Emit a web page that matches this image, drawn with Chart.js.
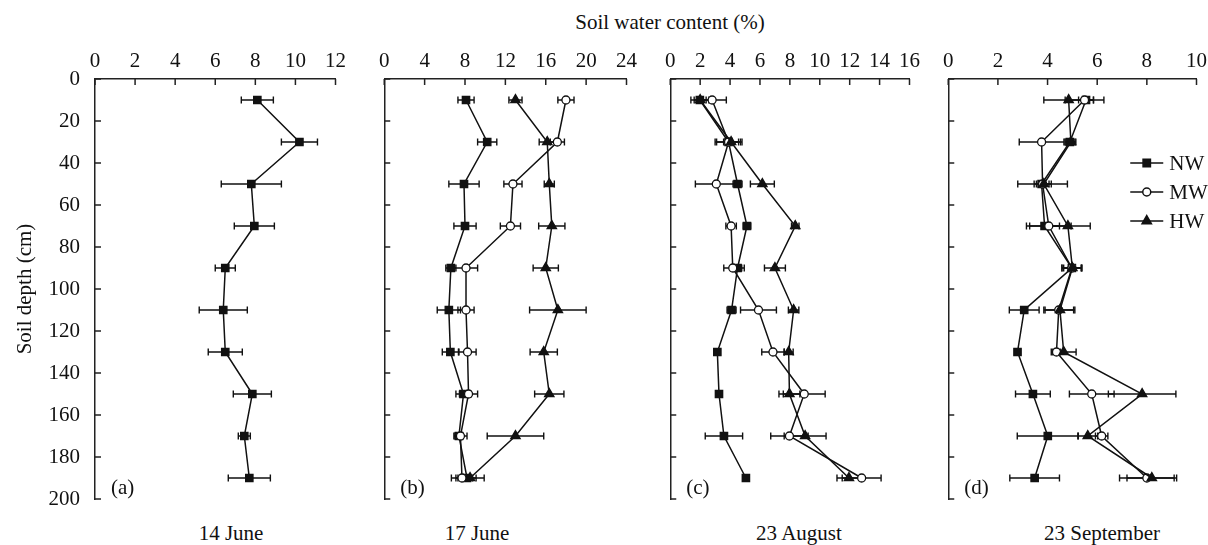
<!DOCTYPE html>
<html>
<head>
<meta charset="utf-8">
<script src="https://cdn.jsdelivr.net/npm/chart.js@4.4.1/dist/chart.umd.min.js"></script>
<style>
  body { margin: 0; background: #fff; width: 1208px; height: 545px; position: relative; overflow: hidden;
         font-family: "Liberation Serif", "Times New Roman", serif; color: #111; }
  canvas { position: absolute; top: 0; }
  .lbl { position: absolute; font-size: 21px; line-height: 24px; white-space: nowrap; transform: translateX(-50%); }
</style>
</head>
<body>
<div class="lbl" style="left:670px; top:10px;">Soil water content (%)</div>
<div class="lbl" style="left:231px; top:521px;">14 June</div>
<div class="lbl" style="left:477px; top:521px;">17 June</div>
<div class="lbl" style="left:799px; top:521px;">23 August</div>
<div class="lbl" style="left:1102px; top:521px;">23 September</div>
<canvas id="pa"></canvas>
<canvas id="pb"></canvas>
<canvas id="pc"></canvas>
<canvas id="pd"></canvas>
<script>
// Données (profondeur en cm, teneur en eau en %)
const depths = [10, 30, 50, 70, 90, 110, 130, 150, 170, 190];
const seriesNames = ["NW", "MW", "HW"];
const panelLetters = ["(a)", "(b)", "(c)", "(d)"];
const xMax = [12, 24, 16, 10];
const xStep = [2, 4, 2, 2];
const yMax = 200;
const yStep = 20;

// (a) 14 June
const aNW = [8.1, 10.2, 7.8, 7.95, 6.5, 6.4, 6.5, 7.85, 7.45, 7.7];
const aNWErr = [0.8, 0.9, 1.5, 1.0, 0.5, 1.2, 0.85, 0.95, 0.3, 1.05];

// (b) 17 June
const bNW = [8.1, 10.2, 7.9, 8.0, 6.6, 6.4, 6.55, 7.85, 7.4, 8.2];
const bNWErr = [0.8, 0.95, 1.5, 1.1, 0.5, 1.15, 0.8, 0.75, 0.4, 0.9];
const bMW = [18.0, 17.15, 12.75, 12.5, 8.1, 8.1, 8.25, 8.35, 7.55, 7.7];
const bMWErr = [0.8, 0.7, 0.9, 1.0, 1.15, 0.8, 0.85, 0.9, 0.65, 1.05];
const bHW = [13.0, 16.15, 16.35, 16.6, 16.0, 17.2, 15.8, 16.35, 13.0, 8.5];
const bHWErr = [0.65, 0.8, 0.5, 1.3, 1.25, 2.8, 1.35, 1.45, 2.8, 1.4];

// (c) 23 August
const cNW = [1.98, 3.9, 4.5, 5.13, 4.5, 4.1, 3.15, 3.26, 3.59, 5.06];
const cNWErr = [0.6, 0.8, 0.3, 0.25, 0.45, 0.3, 0.15, 0.15, 1.25, 0.2];
const cMW = [2.8, 3.9, 3.08, 4.07, 4.18, 5.9, 6.87, 8.96, 7.97, 12.8];
const cMWErr = [0.95, 0.9, 1.4, 0.35, 0.6, 1.2, 0.75, 1.4, 1.25, 1.3];
const cHW = [2.0, 4.07, 6.16, 8.36, 7.0, 8.25, 7.92, 7.97, 9.02, 11.95];
const cHWErr = [0.4, 0.5, 0.8, 0.25, 0.7, 0.35, 0.3, 0.7, 1.4, 0.8];

// (d) 23 September
const dNW = [5.55, 4.9, 3.76, 3.88, 4.98, 3.06, 2.79, 3.41, 4.01, 3.48];
const dNWErr = [0.3, 0.2, 0.3, 0.6, 0.4, 0.6, 0.1, 0.7, 1.23, 1.0];
const dMW = [5.49, 3.76, 3.8, 4.05, 4.98, 4.45, 4.36, 5.78, 6.18, 8.0];
const dMWErr = [0.78, 0.9, 1.0, 0.9, 0.4, 0.6, 0.15, 0.9, 0.25, 1.1];
const dHW = [4.85, 4.94, 3.85, 4.82, 5.0, 4.5, 4.65, 7.81, 5.62, 8.2];
const dHWErr = [1.0, 0.2, 0.3, 0.9, 0.35, 0.6, 0.5, 1.36, 0.4, 1.0];

// Styles
const ink = "#111";
const axisColor = "#222";
const fontFamily = '"Liberation Serif", "Times New Roman", serif';
const markerStyles = {
  NW: { pointStyle: "rect", radius: 5.2, fill: ink, order: 3 },
  MW: { pointStyle: "circle", radius: 4, fill: "#fff", order: 2 },
  HW: { pointStyle: "triangle", radius: 5.4, fill: ink, order: 1 },
};

// Barres d'erreur horizontales
const errorBars = {
  id: "errorBars",
  beforeDatasetsDraw(chart) {
    const ctx = chart.ctx, xs = chart.scales.x, ys = chart.scales.y;
    ctx.save();
    ctx.strokeStyle = ink;
    ctx.lineWidth = 1.4;
    chart.data.datasets.forEach((ds) => {
      ds.err.forEach((e, i) => {
        const p = ds.data[i];
        const x1 = xs.getPixelForValue(p.x - e);
        const x2 = xs.getPixelForValue(p.x + e);
        const y = ys.getPixelForValue(p.y);
        ctx.beginPath();
        ctx.moveTo(x1, y); ctx.lineTo(x2, y);
        ctx.moveTo(x1, y - 3.5); ctx.lineTo(x1, y + 3.5);
        ctx.moveTo(x2, y - 3.5); ctx.lineTo(x2, y + 3.5);
        ctx.stroke();
      });
    });
    ctx.restore();
  },
};

// Graduations vers l'intérieur, lettre du panneau, légende
const panelDecor = {
  id: "panelDecor",
  afterDraw(chart, args, opts) {
    const ctx = chart.ctx, a = chart.chartArea;
    const xs = chart.scales.x, ys = chart.scales.y;
    ctx.save();
    ctx.strokeStyle = axisColor;
    ctx.lineWidth = 1.5;
    ctx.beginPath();
    xs.ticks.forEach((t) => {
      const px = xs.getPixelForValue(t.value);
      ctx.moveTo(px, a.top); ctx.lineTo(px, a.top + 6);
    });
    ys.ticks.forEach((t) => {
      const py = ys.getPixelForValue(t.value);
      ctx.moveTo(a.left, py); ctx.lineTo(a.left + 6, py);
    });
    ctx.stroke();

    ctx.fillStyle = ink;
    ctx.font = "21px " + fontFamily;
    ctx.textBaseline = "middle";
    ctx.fillText(opts.letter, a.left + 16, 488);

    if (opts.legend) {
      seriesNames.forEach((name, i) => {
        const st = markerStyles[name];
        const y = 163 + i * 29;
        const x0 = a.left + 182;
        ctx.strokeStyle = ink;
        ctx.lineWidth = 1.5;
        ctx.beginPath();
        ctx.moveTo(x0, y); ctx.lineTo(x0 + 33, y);
        ctx.stroke();
        ctx.fillStyle = st.fill;
        Chart.helpers.drawPoint(ctx, { pointStyle: st.pointStyle, radius: st.radius, rotation: 0, borderWidth: 1.3 }, x0 + 16.5, y);
        ctx.fillStyle = ink;
        ctx.fillText(name, x0 + 39, y + 1);
      });
    }
    ctx.restore();
  },
};

function makeDataset(name, values, errors) {
  const st = markerStyles[name];
  return {
    label: name,
    data: depths.map((d, i) => ({ x: values[i], y: d })),
    err: errors,
    borderColor: ink,
    borderWidth: 1.5,
    pointStyle: st.pointStyle,
    pointRadius: st.radius,
    pointBackgroundColor: st.fill,
    pointBorderColor: ink,
    pointBorderWidth: 1.3,
    order: st.order,
    tension: 0,
    fill: false,
  };
}

function makePanel(id, idx, plotLeft, plotRight, yWidth, datasets, showY, legend) {
  const canvas = document.getElementById(id);
  const padRight = 13;
  const left = plotLeft - yWidth;
  canvas.width = plotRight - left + padRight;
  canvas.height = 545;
  canvas.style.left = left + "px";
  return new Chart(canvas.getContext("2d"), {
    type: "line",
    data: { datasets },
    options: {
      responsive: false,
      animation: false,
      layout: { padding: { left: 0, right: padRight, top: 0, bottom: 46 } },
      scales: {
        x: {
          type: "linear",
          position: "top",
          min: 0,
          max: xMax[idx],
          afterFit: (s) => { s.height = 79; },
          grid: { display: false, drawTicks: false },
          border: { display: true, color: axisColor, width: 1.5 },
          ticks: { stepSize: xStep[idx], padding: 5, color: ink, font: { family: fontFamily, size: 21 } },
        },
        y: {
          type: "linear",
          reverse: true,
          min: 0,
          max: yMax,
          afterFit: (s) => { s.width = yWidth; },
          grid: { display: false, drawTicks: false },
          border: { display: true, color: axisColor, width: 1.5 },
          ticks: { display: showY, stepSize: yStep, padding: 15, color: ink, font: { family: fontFamily, size: 21 } },
          title: {
            display: showY,
            text: "Soil depth (cm)",
            color: ink,
            padding: { top: 13, bottom: 0 },
            font: { family: fontFamily, size: 21 },
          },
        },
      },
      plugins: {
        legend: { display: false },
        tooltip: { enabled: false },
        panelDecor: { letter: panelLetters[idx], legend: legend },
      },
    },
    plugins: [errorBars, panelDecor],
  });
}

makePanel("pa", 0, 95, 338, 95, [makeDataset("NW", aNW, aNWErr)], true, false);
makePanel("pb", 1, 384, 629, 10, [
  makeDataset("NW", bNW, bNWErr),
  makeDataset("MW", bMW, bMWErr),
  makeDataset("HW", bHW, bHWErr),
], false, false);
makePanel("pc", 2, 670, 912, 10, [
  makeDataset("NW", cNW, cNWErr),
  makeDataset("MW", cMW, cMWErr),
  makeDataset("HW", cHW, cHWErr),
], false, false);
makePanel("pd", 3, 948, 1199, 10, [
  makeDataset("NW", dNW, dNWErr),
  makeDataset("MW", dMW, dMWErr),
  makeDataset("HW", dHW, dHWErr),
], false, true);
</script>
</body>
</html>
